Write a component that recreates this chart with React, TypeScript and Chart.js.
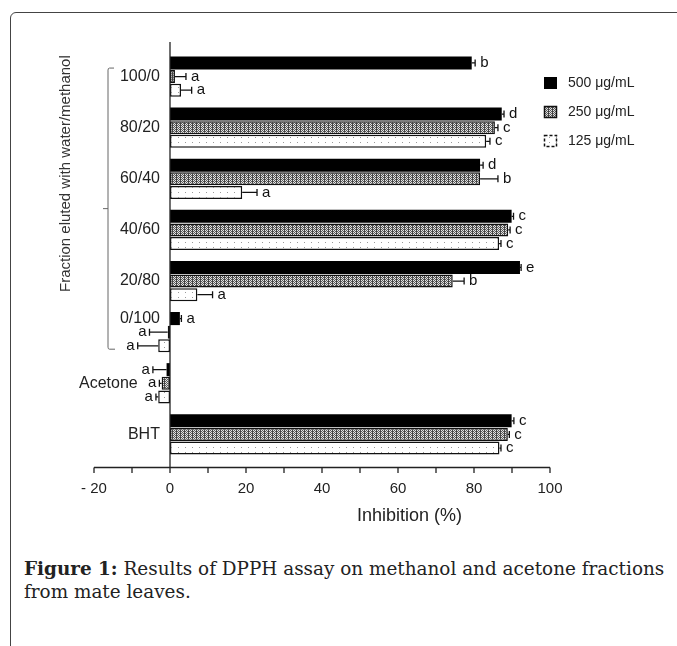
import React, { useEffect, useRef } from 'react';
import { Chart, registerables } from 'chart.js';

Chart.register(...registerables);

const categories = ['100/0', '80/20', '60/40', '40/60', '20/80', '0/100', 'Acetone', 'BHT'];
const seriesNames = ['500 μg/mL', '250 μg/mL', '125 μg/mL'];

const values500 = [79.4, 87.3, 81.6, 89.9, 92.1, 2.6, -0.9, 89.9];
const err500 = [0.9, 0.6, 0.8, 0.5, 0.3, 0.4, 3.6, 0.6];
const letters500 = ['b', 'd', 'd', 'c', 'e', 'a', 'a', 'c'];

const values250 = [1.3, 85.5, 81.6, 89.0, 74.4, -0.6, -2.2, 88.9];
const err250 = [2.9, 0.8, 4.7, 0.5, 3.0, 4.8, 0.6, 0.4];
const letters250 = ['a', 'c', 'b', 'c', 'b', 'a', 'a', 'c'];

const values125 = [2.9, 83.2, 19.0, 86.6, 7.2, -3.1, -3.1, 86.7];
const err125 = [2.8, 1.0, 3.9, 0.5, 4.0, 5.4, 0.6, 0.4];
const letters125 = ['a', 'c', 'a', 'c', 'a', 'a', 'a', 'c'];

const xMin = -20;
const xMax = 100;
const xStep = 10;
const xLabelStep = 20;

const xTitle = 'Inhibition (%)';
const yTitle = 'Fraction eluted with water/methanol';
const captionBold = 'Figure 1:';
const captionLine1 = ' Results of DPPH assay on methanol and acetone fractions';
const captionLine2 = 'from mate leaves.';

const SANS = '"Liberation Sans", Arial, sans-serif';

function makeGreyPattern(): CanvasPattern | string {
  const c = document.createElement('canvas');
  c.width = 4;
  c.height = 4;
  const g = c.getContext('2d');
  if (!g) return '#999';
  g.fillStyle = '#e2e2e2';
  g.fillRect(0, 0, 4, 4);
  g.fillStyle = '#5a5a5a';
  for (let y = 0; y < 4; y++) {
    for (let x = 0; x < 4; x++) {
      if ((x + y) % 2 === 0) g.fillRect(x, y, 1, 1);
    }
  }
  g.fillStyle = '#444';
  g.fillRect(0, 0, 1, 4);
  const p = g.createPattern(c, 'repeat');
  return p || '#999';
}

function makeDotPattern(): CanvasPattern | string {
  const c = document.createElement('canvas');
  c.width = 7;
  c.height = 5;
  const g = c.getContext('2d');
  if (!g) return '#fff';
  g.fillStyle = '#ffffff';
  g.fillRect(0, 0, 7, 5);
  g.fillStyle = '#9a9a9a';
  g.fillRect(3, 2, 1, 1);
  const p = g.createPattern(c, 'repeat');
  return p || '#fff';
}

export default function App() {
  const canvasRef = useRef<HTMLCanvasElement | null>(null);

  useEffect(() => {
    const canvas = canvasRef.current;
    if (!canvas) return;
    const grey = makeGreyPattern();
    const dots = makeDotPattern();
    const errs = [err500, err250, err125];
    const lets = [letters500, letters250, letters125];
    const fills: any[] = ['#000000', grey, dots];

    const decor = {
      id: 'decor',
      afterDatasetsDraw(chart: any) {
        const ctx = chart.ctx;
        const xs = chart.scales.x;
        chart.data.datasets.forEach((ds: any, di: number) => {
          const meta = chart.getDatasetMeta(di);
          meta.data.forEach((bar: any, i: number) => {
            const v = ds.data[i];
            const e = errs[di][i];
            const sign = v >= 0 ? 1 : -1;
            const xEnd = xs.getPixelForValue(v);
            const xErr = xs.getPixelForValue(v + sign * e);
            const y = bar.y;
            ctx.save();
            ctx.strokeStyle = '#111';
            ctx.lineWidth = 1.3;
            ctx.beginPath();
            ctx.moveTo(xEnd, y);
            ctx.lineTo(xErr, y);
            ctx.moveTo(xErr, y - 3.5);
            ctx.lineTo(xErr, y + 3.5);
            ctx.stroke();
            ctx.font = '15px ' + SANS;
            ctx.fillStyle = '#111';
            ctx.textBaseline = 'middle';
            if (sign > 0) {
              ctx.textAlign = 'left';
              ctx.fillText(lets[di][i], xErr + 5, y);
            } else {
              ctx.textAlign = 'right';
              ctx.fillText(lets[di][i], xErr - 3, y);
            }
            ctx.restore();
          });
        });
      },
      afterDraw(chart: any) {
        const ctx = chart.ctx;
        const xs = chart.scales.x;
        const ys = chart.scales.y;
        const area = chart.chartArea;
        const x0 = xs.getPixelForValue(0);
        const axisY = area.bottom + 7.5;
        ctx.save();
        ctx.strokeStyle = '#222';
        ctx.lineWidth = 1.3;
        ctx.beginPath();
        ctx.moveTo(x0, area.top - 9);
        ctx.lineTo(x0, axisY);
        ctx.stroke();
        ctx.beginPath();
        ctx.moveTo(xs.getPixelForValue(xMin), axisY);
        ctx.lineTo(xs.getPixelForValue(xMax), axisY);
        xs.ticks.forEach((t: any) => {
          const px = xs.getPixelForValue(t.value);
          ctx.moveTo(px, axisY);
          ctx.lineTo(px, axisY + 5.5);
        });
        ctx.stroke();

        const top = ys.getPixelForValue(0) - 8.5;
        const bot = ys.getPixelForValue(5) + 17;
        const bx = 108;
        ctx.strokeStyle = '#666';
        ctx.lineWidth = 1;
        ctx.beginPath();
        ctx.moveTo(bx + 6, top);
        ctx.lineTo(bx + 1.5, top);
        ctx.quadraticCurveTo(bx, top, bx, top + 2);
        ctx.lineTo(bx, bot - 2);
        ctx.quadraticCurveTo(bx, bot, bx + 1.5, bot);
        ctx.lineTo(bx + 7, bot);
        const mid = (top + bot) / 2;
        ctx.moveTo(bx, mid);
        ctx.lineTo(bx - 5, mid);
        ctx.stroke();

        ctx.fillStyle = '#333';
        ctx.font = '15px ' + SANS;
        ctx.textAlign = 'center';
        ctx.textBaseline = 'middle';
        ctx.translate(65.5, mid - 35);
        ctx.rotate(-Math.PI / 2);
        ctx.fillText(yTitle, 0, 0);
        ctx.restore();

        ctx.save();
        ctx.fillStyle = '#222';
        ctx.font = '18px ' + SANS;
        ctx.textAlign = 'center';
        ctx.textBaseline = 'middle';
        ctx.fillText(xTitle, xs.getPixelForValue(63), axisY + 49);
        ctx.restore();

        ctx.save();
        const rows = [83, 112, 141];
        seriesNames.forEach((name, i) => {
          const ry = rows[i];
          ctx.fillStyle = fills[i];
          ctx.fillRect(544, ry - 6, 13, 12);
          if (i > 0) {
            ctx.strokeStyle = '#111';
            ctx.lineWidth = 1.5;
            if (i === 2) ctx.setLineDash([3, 2]);
            ctx.strokeRect(544.5, ry - 5.5, 12, 11);
            ctx.setLineDash([]);
          }
          ctx.fillStyle = '#222';
          ctx.font = '14px ' + SANS;
          ctx.textAlign = 'left';
          ctx.textBaseline = 'middle';
          ctx.fillText(name, 568, ry);
        });
        ctx.restore();
      },
    };

    const chart = new Chart(canvas, {
      type: 'bar',
      data: {
        labels: categories,
        datasets: [
          { label: seriesNames[0], data: values500, backgroundColor: fills[0], borderColor: '#000', borderWidth: 0 },
          { label: seriesNames[1], data: values250, backgroundColor: fills[1], borderColor: '#111', borderWidth: 1.5, borderSkipped: false },
          { label: seriesNames[2], data: values125, backgroundColor: fills[2], borderColor: '#111', borderWidth: 1.5, borderSkipped: false },
        ] as any,
      },
      plugins: [decor],
      options: {
        indexAxis: 'y',
        animation: false,
        responsive: false,
        devicePixelRatio: 1,
        categoryPercentage: 0.8,
        barPercentage: 0.96,
        layout: { padding: { left: 94, right: 127, top: 51, bottom: 0 } },
        plugins: { legend: { display: false }, tooltip: { enabled: false } },
        scales: {
          x: {
            type: 'linear',
            min: xMin,
            max: xMax,
            grid: { display: false, drawTicks: false },
            border: { display: false },
            afterFit: (s: any) => { s.height = 70; },
            ticks: {
              stepSize: xStep,
              padding: 20,
              color: '#222',
              font: { size: 15, family: SANS },
              callback: (v: any) => {
                const n = Number(v);
                if (n % xLabelStep !== 0) return '';
                return n < 0 ? '- ' + Math.abs(n) : String(n);
              },
            },
          },
          y: {
            type: 'category',
            position: { x: -2.65 } as any,
            grid: { display: false, drawTicks: false },
            border: { display: false },
            ticks: {
              padding: 0,
              color: '#222',
              font: { size: 16, family: SANS, lineHeight: 0.85 },
              callback: (_v: any, i: number) => {
                const c = categories[i];
                if (c === 'Acetone') return c + '     ';
                if (c === '0/100') return [c, '', ''];
                return c;
              },
            },
          },
        },
      } as any,
    });
    return () => chart.destroy();
  }, []);

  return (
    <div style={{ position: 'fixed', left: 0, top: 0, width: 677, height: 646, overflow: 'hidden', background: '#fff' }}>
      <div style={{ position: 'absolute', left: 10, top: 12, width: 1000, height: 1000, border: '1px solid #444', borderRadius: 6, boxSizing: 'border-box' }} />
      <canvas ref={canvasRef} width={677} height={530} style={{ position: 'absolute', left: 0, top: 0, display: 'block' }} />
      <div style={{ position: 'absolute', left: 24, top: 557, fontFamily: '"DejaVu Serif", serif', fontSize: 18.4, lineHeight: '23px', color: '#222', whiteSpace: 'nowrap' }}>
        <b>{captionBold}</b>{captionLine1}<br />{captionLine2}
      </div>
    </div>
  );
}
